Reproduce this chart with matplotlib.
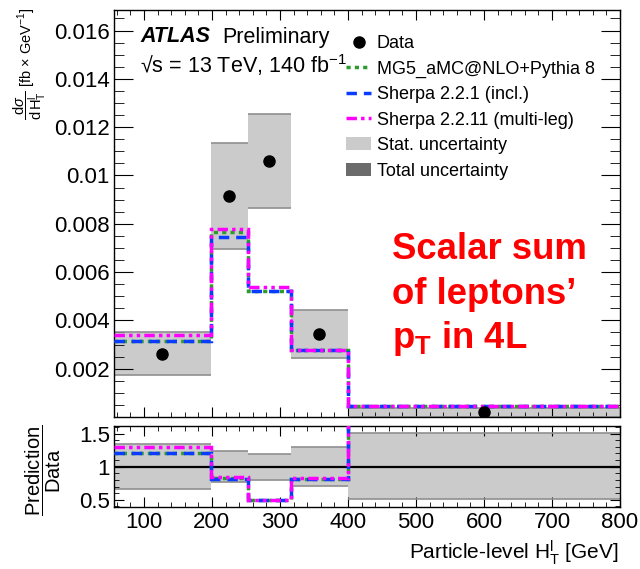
import numpy as np
import matplotlib
matplotlib.use("Agg")
import matplotlib.pyplot as plt
from matplotlib.lines import Line2D
from matplotlib.patches import Patch
from matplotlib.ticker import MultipleLocator

plt.rcParams['font.family'] = ['Liberation Sans', 'DejaVu Sans']
plt.rcParams['mathtext.fontset'] = 'custom'
plt.rcParams['mathtext.rm'] = 'Liberation Sans'
plt.rcParams['mathtext.it'] = 'Liberation Sans:italic'
plt.rcParams['mathtext.bf'] = 'Liberation Sans:bold'

# bin edges in GeV
edges = np.array([56, 198, 253, 316, 400, 800])
centers = 0.5 * (edges[:-1] + edges[1:])

# cross section [fb/GeV]
data = [0.0026, 0.00917, 0.0106, 0.00343, 0.00022]
stat_lo = [0.00172, 0.00694, 0.00866, 0.00244, 0.0]
stat_hi = [0.00351, 0.01134, 0.01255, 0.00442, 0.00037]
mg5 = [0.00314, 0.00767, 0.0052, 0.00278, 0.00045]
sherpa221 = [0.00314, 0.00746, 0.0052, 0.00278, 0.00045]
sherpa2211 = [0.0034, 0.00777, 0.00538, 0.00278, 0.00045]

# ratio panel
r_stat_lo = [0.67, 0.77, 0.80, 0.71, 0.51]
r_stat_hi = [1.34, 1.24, 1.19, 1.30, 1.505]
r_mg5 = [1.21, 0.83, 0.49, 0.82, 2.0]
r_sherpa221 = [1.21, 0.82, 0.49, 0.82, 2.0]
r_sherpa2211 = [1.29, 0.85, 0.49, 0.83, 2.0]

c_green = '#2e9b2e'
c_blue = '#0a3cff'
c_mag = '#ff00ff'
c_stat = '#cbcbcb'
c_edge = '#8f8f8f'

ls_mg5 = (0, (1.2, 1.2))
ls_s221 = (0, (3, 2))
ls_s2211 = (0, (3, 1.2, 1, 1.2, 1, 1.2))

fig = plt.figure(figsize=(6.4, 5.69), dpi=100)
ax = fig.add_axes([114 / 640, 1 - 417 / 569, 506 / 640, 407 / 569])
rx = fig.add_axes([114 / 640, 1 - 506.7 / 569, 506 / 640, 80.7 / 569])

widths = np.diff(edges)

# main panel
ax.bar(edges[:-1], np.array(stat_hi) - np.array(stat_lo), widths, bottom=stat_lo,
       align='edge', color=c_stat, lw=0, zorder=1)
ax.hlines(stat_hi, edges[:-1], edges[1:], color=c_edge, lw=1.2, zorder=2)
ax.hlines(stat_lo, edges[:-1], edges[1:], color=c_edge, lw=1.2, zorder=2)
ax.stairs(mg5, edges, baseline=None, color=c_green, lw=2.5, ls=ls_mg5, zorder=3)
ax.stairs(sherpa221, edges, baseline=None, color=c_blue, lw=2.5, ls=ls_s221, zorder=4)
ax.stairs(sherpa2211, edges, baseline=None, color=c_mag, lw=2.5, ls=ls_s2211, zorder=5)
ax.plot(centers, data, 'o', color='black', ms=8, zorder=6)

ax.set_xlim(56, 800)
ax.set_ylim(0, 0.01685)
ax.yaxis.set_minor_locator(MultipleLocator(0.0005))
ax.set_yticks([0.002, 0.004, 0.006, 0.008, 0.01, 0.012, 0.014, 0.016])
ax.set_yticklabels(['0.002', '0.004', '0.006', '0.008', '0.01', '0.012', '0.014', '0.016'])
ax.xaxis.set_major_locator(MultipleLocator(100))
ax.xaxis.set_minor_locator(MultipleLocator(20))
ax.tick_params(axis='x', labelbottom=False)

# ratio panel
rx.bar(edges[:-1], np.array(r_stat_hi) - np.array(r_stat_lo), widths, bottom=r_stat_lo,
       align='edge', color=c_stat, lw=0, zorder=1)
rx.hlines(r_stat_hi, edges[:-1], edges[1:], color=c_edge, lw=1.2, zorder=2)
rx.hlines(r_stat_lo, edges[:-1], edges[1:], color=c_edge, lw=1.2, zorder=2)
rx.axhline(1, color='black', lw=1.6, zorder=3)
rx.stairs(r_mg5, edges, baseline=None, color=c_green, lw=2.5, ls=ls_mg5, zorder=4)
rx.stairs(r_sherpa221, edges, baseline=None, color=c_blue, lw=2.5, ls=ls_s221, zorder=5)
rx.stairs(r_sherpa2211, edges, baseline=None, color=c_mag, lw=2.5, ls=ls_s2211, zorder=6)
rx.set_xlim(56, 800)
rx.set_ylim(0.395, 1.615)
rx.yaxis.set_minor_locator(MultipleLocator(0.1))
rx.set_yticks([0.5, 1, 1.5])
rx.set_yticklabels(['0.5', '1', '1.5'])
rx.xaxis.set_major_locator(MultipleLocator(100))
rx.xaxis.set_minor_locator(MultipleLocator(20))

for a in (ax, rx):
    a.tick_params(which='both', direction='in', top=True, right=True, labelsize=16, pad=3)
    a.tick_params(axis='x', which='major', length=7)
    a.tick_params(axis='x', which='minor', length=3.5)
    for s in a.spines.values():
        s.set_linewidth(1.0)
ax.tick_params(axis='y', which='major', length=14)
ax.tick_params(axis='y', which='minor', length=7)
rx.tick_params(axis='y', which='major', length=7)
rx.tick_params(axis='y', which='minor', length=3.5)
rx.tick_params(axis='x', pad=4)

# labels
fig.text(30 / 640, 1 - 7 / 569,
         r'$\dfrac{\mathrm{d}\sigma}{\mathrm{d\,H}_{\mathrm{T}}^{\mathrm{l}}}$ [fb $\times$ GeV$^{-1}$]',
         rotation=90, ha='center', va='top', fontsize=10.5)
fig.text(43 / 640, 1 - 470 / 569, r'$\dfrac{\mathrm{Prediction}}{\mathrm{Data}}$',
         rotation=90, ha='center', va='center', fontsize=14.5)
fig.text(619 / 640, 1 - 559 / 569, r'Particle-level H$_{\mathrm{T}}^{\mathrm{l}}$ [GeV]',
         ha='right', va='baseline', fontsize=15)

fig.text(140 / 640, 1 - 42.5 / 569, 'ATLAS', fontsize=15.5, fontweight='bold',
         fontstyle='italic', va='baseline')
fig.text(222 / 640, 1 - 42.5 / 569, 'Preliminary', fontsize=15.5, va='baseline')
fig.text(140 / 640, 1 - 73 / 569, '\u221as = 13 TeV, 140 fb$^{-1}$', fontsize=15.5,
         va='baseline')

red_lines = ['Scalar sum', 'of leptons\u2019', r'p$_{\mathbf{T}}$ in 4L']
red_base = [259, 303.5, 348]
for txt, yb in zip(red_lines, red_base):
    fig.text(392 / 640, 1 - yb / 569, txt, color='red', fontsize=26.3,
             fontweight='bold', va='baseline', ha='left')

handles = [
    Line2D([], [], marker='o', color='black', ls='none', ms=8),
    Line2D([], [], color=c_green, lw=2.5, ls=ls_mg5),
    Line2D([], [], color=c_blue, lw=2.5, ls=ls_s221),
    Line2D([], [], color=c_mag, lw=2.5, ls=ls_s2211),
    Patch(facecolor=c_stat, edgecolor='none'),
    Patch(facecolor='#6b6b6b', edgecolor='none'),
]
labels = ['Data', 'MG5_aMC@NLO+Pythia 8', 'Sherpa 2.2.1 (incl.)', 'Sherpa 2.2.11 (multi-leg)',
          'Stat. uncertainty', 'Total uncertainty']
ax.legend(handles, labels, loc='upper left', bbox_to_anchor=(346 / 640, 1 - 35 / 569),
          bbox_transform=fig.transFigure, frameon=False, fontsize=13, handlelength=1.4,
          handletextpad=0.3, labelspacing=0.47, borderaxespad=0, borderpad=0)

fig.savefig('out.png', dpi=100)
